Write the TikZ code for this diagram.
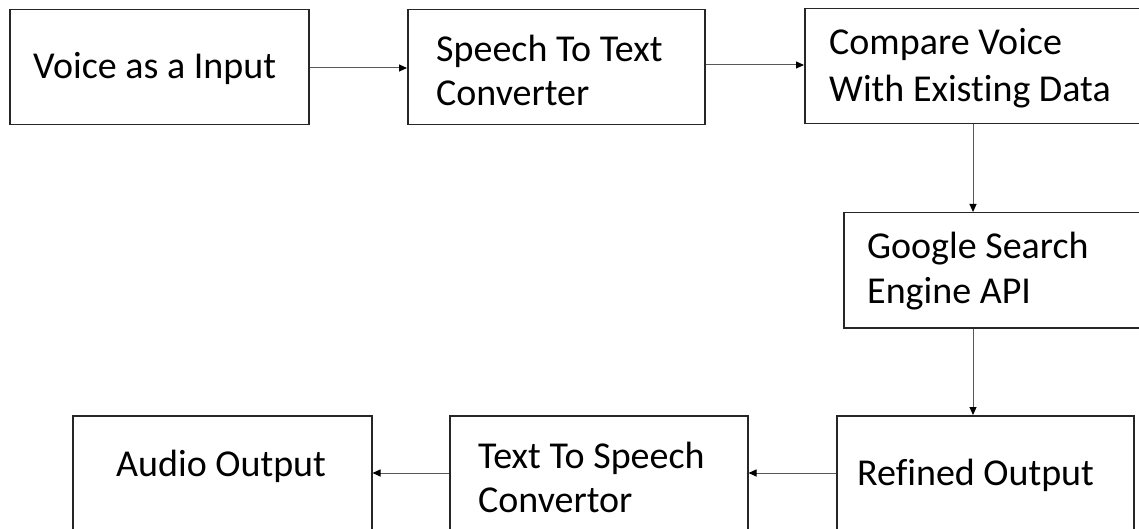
\documentclass[tikz,border=0pt]{standalone}
\usepackage{fontspec}
\setmainfont{Carlito}[Ligatures=NoCommon]
\usetikzlibrary{arrows.meta,calc}
\tikzset{
  blockbox/.style={draw=black!85, line width=1.5pt, inner sep=0pt, fill=none},
  txt/.style={inner sep=0pt, anchor=base west, align=left, font=\fontsize{38}{45}\selectfont, text=black},
  flow/.style={draw=black!65, line width=1pt, -{Triangle[length=8pt,width=7pt,color=black,fill=black]}}
}
\begin{document}
\begin{tikzpicture}[x=1pt,y=-1pt]
\clip (0,0) rectangle (1139,529);
\fill[white] (0,0) rectangle (1139,529);
% boxes
\node[blockbox, minimum width=299pt, minimum height=115pt, anchor=north west] (b1) at (9,9) {};
\node[blockbox, minimum width=297pt, minimum height=115pt, anchor=north west] (b2) at (407,9) {};
\node[blockbox, minimum width=341pt, minimum height=115pt, anchor=north west] (b3) at (804,8) {};
\node[blockbox, minimum width=302pt, minimum height=115pt, anchor=north west] (b4) at (843,212) {};
\node[blockbox, minimum width=297pt, minimum height=125pt, anchor=north west] (b5) at (836,415) {};
\node[blockbox, minimum width=298pt, minimum height=125pt, anchor=north west] (b6) at (449,415) {};
\node[blockbox, minimum width=299pt, minimum height=125pt, anchor=north west] (b7) at (72,415) {};
% texts (base anchor = baseline of the last line)
\node[txt] (t1) at (33,79) {Voice as a Input};
\node[txt, font=\fontsize{38}{44}\selectfont] (t2) at (436,106) {Speech To Text\\Converter};
\node[txt, font=\fontsize{38}{47}\selectfont] (t3) at (829,102) {Compare Voice\\With Existing Data};
\node[txt, font=\fontsize{38}{45}\selectfont] (t4) at (867,303) {Google Search\\Engine API};
\node[txt] (t5) at (857,485) {Refined Output};
\node[txt, font=\fontsize{38}{44}\selectfont] (t6) at (478,512) {Text To Speech\\Convertor};
\node[txt] (t7) at (116,476) {Audio Output};
% guide coordinates
\coordinate (h1) at (0,68);
\coordinate (h2) at (0,65);
\coordinate (v1) at (973,0);
\coordinate (h3) at (0,473);
% connectors
\draw[flow] (b1.east |- h1) -- (b2.west |- h1);
\draw[flow] (b2.east |- h2) -- (b3.west |- h2);
\draw[flow] (b3.south -| v1) -- (b4.north -| v1);
\draw[flow] (b4.south -| v1) -- (b5.north -| v1);
\draw[flow] (b5.west |- h3) -- (b6.east |- h3);
\draw[flow] (b6.west |- h3) -- (b7.east |- h3);
\end{tikzpicture}
\end{document}
